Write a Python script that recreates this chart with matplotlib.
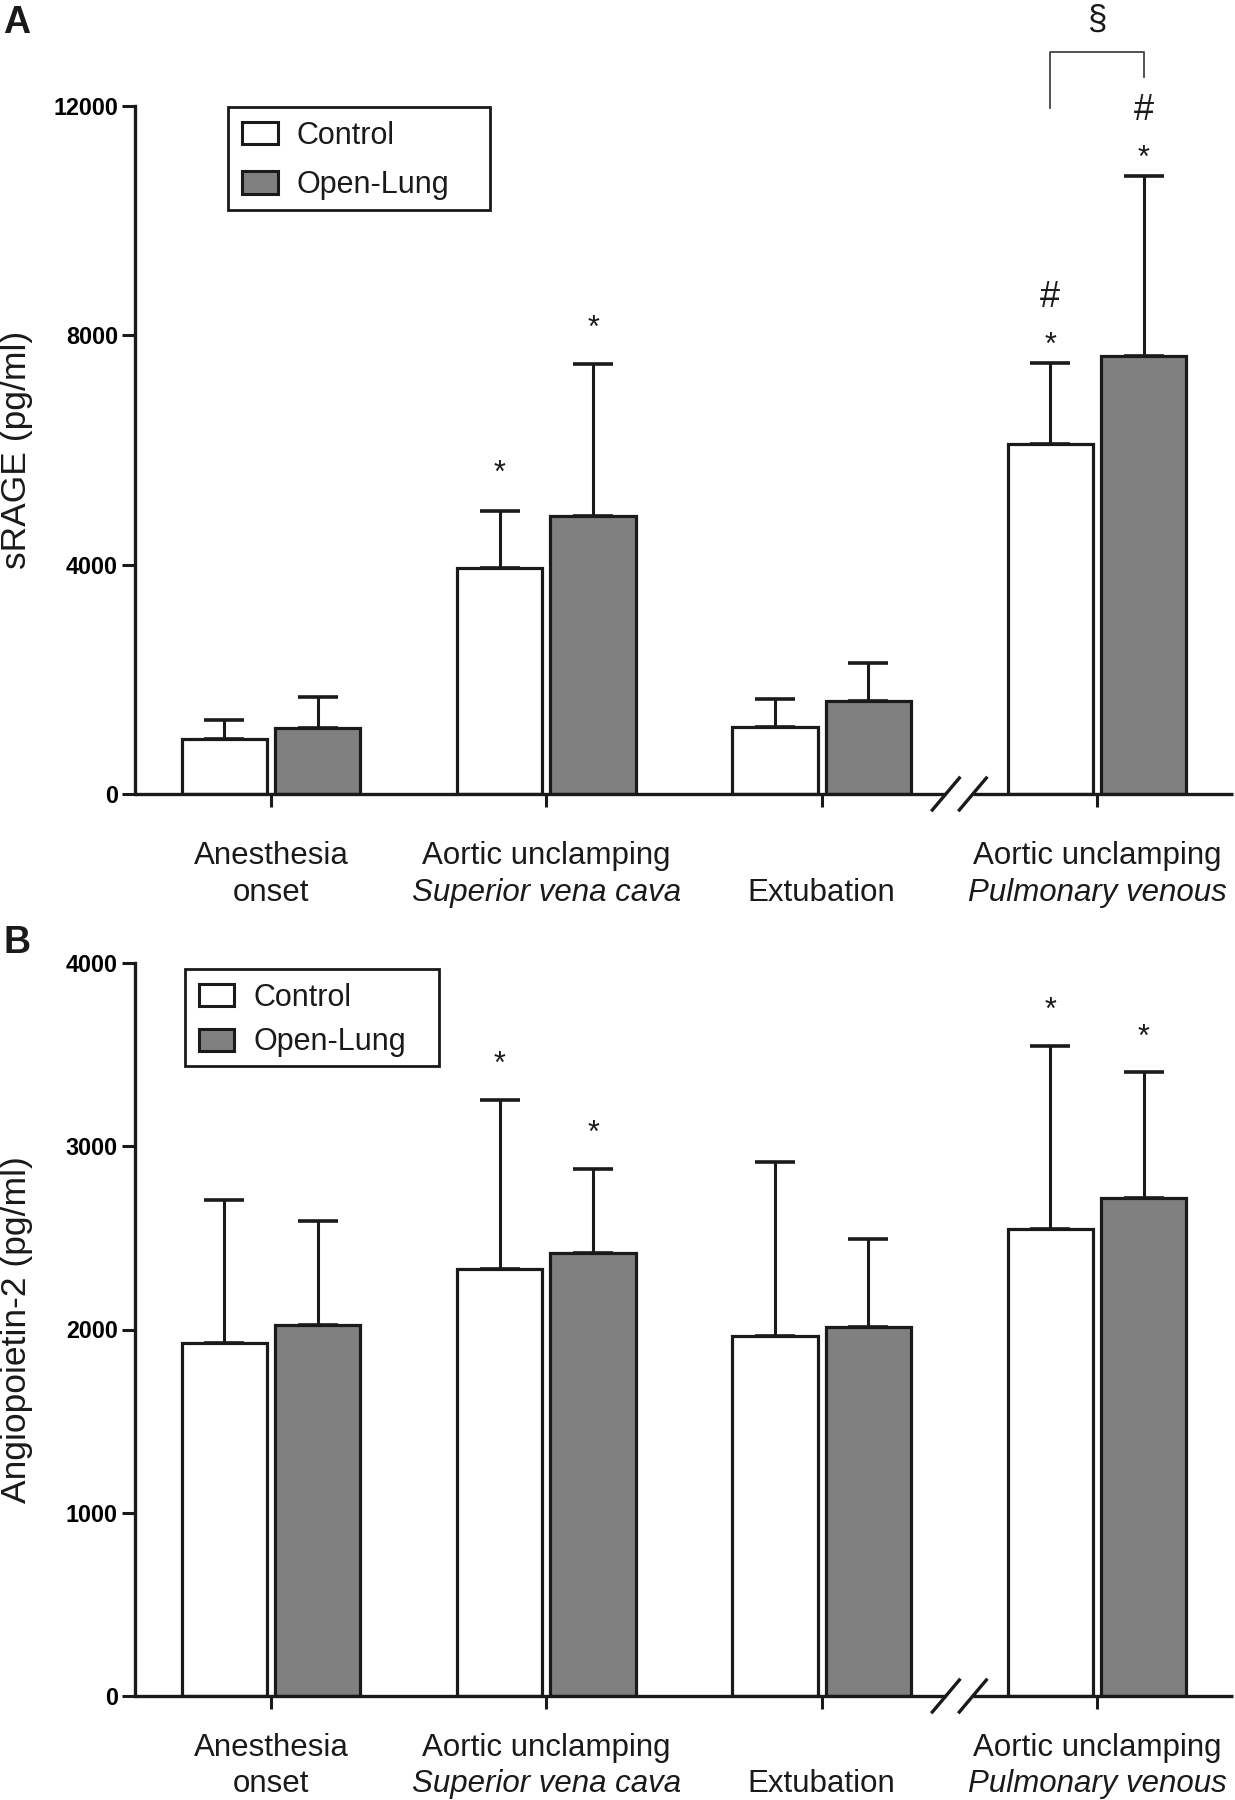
import matplotlib.pyplot as plt
from matplotlib.patches import Patch, Rectangle
import numpy as np

plt.rcParams['font.family'] = ['Liberation Sans', 'DejaVu Sans']

# category labels (two lines, second one italic for the sampling site)
line1 = ['Anesthesia', 'Aortic unclamping', '', 'Aortic unclamping']
line2 = ['onset', 'Superior vena cava', 'Extubation', 'Pulmonary venous']
line2_italic = [False, True, False, True]

# panel A: sRAGE (pg/ml), mean and SD
srage_control = [955, 3947, 1174, 6100]
srage_control_sd = [330, 994, 483, 1417]
srage_openlung = [1146, 4854, 1617, 7640]
srage_openlung_sd = [546, 2640, 661, 3140]
srage_ticks = [0, 4000, 8000, 12000]

# panel B: Angiopoietin-2 (pg/ml), mean and SD
ang2_control = [1925, 2328, 1964, 2550]
ang2_control_sd = [782, 924, 950, 997]
ang2_openlung = [2025, 2416, 2014, 2719]
ang2_openlung_sd = [567, 462, 478, 684]
ang2_ticks = [0, 1000, 2000, 3000, 4000]

# significance marks: (group, series, symbol, offset above error bar in pt)
srage_marks = [(1, 0, '*', 20.7), (1, 1, '*', 19.7),
               (3, 0, '*', 6.5), (3, 0, '#', 40),
               (3, 1, '*', 6.5), (3, 1, '#', 40)]
ang2_marks = [(1, 0, '*', 19.4), (1, 1, '*', 19.4),
              (3, 0, '*', 19.4), (3, 1, '*', 19.4)]

W, H = 1235, 1800
fig = plt.figure(figsize=(W / 100, H / 100), dpi=100)

dark = '#1a1a1a'
grey = '#808080'
x = np.arange(4)
off = 0.17
bw = 0.31
xmin, xmax = -0.494, 3.494


def draw_panel(ax, ctrl, ctrl_sd, ol, ol_sd, ymax, ticks, ylabel, marks,
               lab_off1, lab_off2, leg_anchor, leg_spacing, frame_px):
    ax.set_xlim(xmin, xmax)
    ax.set_ylim(0, ymax)

    ax.bar(x - off, ctrl, bw, color='white', edgecolor=dark, linewidth=2.3,
           label='Control', zorder=2)
    ax.bar(x + off, ol, bw, color=grey, edgecolor=dark, linewidth=2.3,
           label='Open-Lung', zorder=2)
    ax.errorbar(x - off, ctrl, yerr=[np.zeros(4), ctrl_sd], fmt='none',
                ecolor=dark, elinewidth=2.2, capsize=14.5, capthick=2.6, zorder=3)
    ax.errorbar(x + off, ol, yerr=[np.zeros(4), ol_sd], fmt='none',
                ecolor=dark, elinewidth=2.2, capsize=14.5, capthick=2.6, zorder=3)

    # spines / ticks
    for s in ['top', 'right', 'bottom']:
        ax.spines[s].set_visible(False)
    ax.spines['left'].set_linewidth(2.4)
    ax.spines['left'].set_color(dark)
    ax.set_yticks(ticks)
    ax.set_xticks(x)
    ax.set_xticklabels([])
    ax.tick_params(axis='both', length=9.4, width=2.2, color=dark, direction='out')
    ax.tick_params(axis='y', labelsize=16.8, pad=2.9)
    for lbl in ax.get_yticklabels():
        lbl.set_fontweight('bold')

    # x axis with a break between Extubation and the last group
    ax_h = ax.bbox.height
    dy = 16 / ax_h * ymax
    ax.plot([xmin, 2.5 - 0.049], [0, 0], color=dark, lw=2.4, clip_on=False,
            solid_capstyle='butt', zorder=4)
    ax.plot([2.5 + 0.049, xmax], [0, 0], color=dark, lw=2.4, clip_on=False,
            solid_capstyle='butt', zorder=4)
    for cx in [2.5 - 0.049, 2.5 + 0.049]:
        ax.plot([cx - 0.049, cx + 0.049], [-dy, dy], color=dark, lw=2.4,
                clip_on=False, zorder=4)

    # category labels
    tr = ax.get_xaxis_transform()
    for i in range(4):
        if line1[i]:
            ax.annotate(line1[i], xy=(x[i], 0), xycoords=tr, xytext=(0, -lab_off1),
                        textcoords='offset points', ha='center', va='baseline',
                        fontsize=22.5, color=dark)
        ax.annotate(line2[i], xy=(x[i], 0), xycoords=tr, xytext=(0, -lab_off2),
                    textcoords='offset points', ha='center', va='baseline',
                    fontsize=22.5, color=dark,
                    style='italic' if line2_italic[i] else 'normal')

    ax.set_ylabel(ylabel, fontsize=25.5, color=dark)
    ax.yaxis.set_label_coords(-0.0929, 0.5)

    # significance marks
    for g, s, sym, d in marks:
        if s == 0:
            xx, top = x[g] - off, ctrl[g] + ctrl_sd[g]
        else:
            xx, top = x[g] + off, ol[g] + ol_sd[g]
        ax.annotate(sym, xy=(xx, top), xytext=(0, d), textcoords='offset points',
                    ha='center', va='baseline', color=dark,
                    fontsize=22 if sym == '*' else 26, annotation_clip=False)

    handles = [Patch(facecolor='white', edgecolor=dark, linewidth=2.2, label='Control'),
               Patch(facecolor=grey, edgecolor=dark, linewidth=2.2, label='Open-Lung')]
    leg = ax.legend(handles=handles, loc='upper left', bbox_to_anchor=leg_anchor,
                    borderaxespad=0, fontsize=22, frameon=False,
                    handlelength=1.17, handleheight=0.75, handletextpad=0.62,
                    labelspacing=leg_spacing, borderpad=0.45)
    for t in leg.get_texts():
        t.set_color(dark)

    # legend frame, drawn separately (wider right margin than the legend pads)
    x0, y0, x1, y1 = frame_px
    fig_h = fig.bbox.height
    rect = Rectangle((x0, fig_h - y1), x1 - x0, y1 - y0, transform=None,
                     fill=False, edgecolor=dark, linewidth=2.0, zorder=5)
    fig.patches.append(rect)


axA = fig.add_axes([135 / W, 1 - 794 / H, 1098 / W, 688 / H])
axB = fig.add_axes([135 / W, 1 - 1696 / H, 1098 / W, 733 / H])

draw_panel(axA, srage_control, srage_control_sd, srage_openlung, srage_openlung_sd,
           12000, srage_ticks, 'sRAGE (pg/ml)', srage_marks, 50.4, 77,
           (0.0847, 0.9985), 0.64, (228, 107, 490, 210))
draw_panel(axB, ang2_control, ang2_control_sd, ang2_openlung, ang2_openlung_sd,
           4000, ang2_ticks, 'Angiopoietin-2 (pg/ml)', ang2_marks, 43.2, 69.1,
           (0.0455, 0.9918), 0.48, (185, 969, 439, 1066))

# bracket between the two pulmonary venous bars in panel A
xl, xr = x[3] - off, x[3] + off
axA.plot([xl, xl, xr, xr], [11964, 12941, 12941, 12505], color='#444444', lw=1.3,
         clip_on=False)
axA.text(x[3], 13490, '\u00a7', ha='center', va='center', fontsize=25, color=dark,
         clip_on=False)

fig.text(3 / W, 1 - 33 / H, 'A', fontsize=27, fontweight='bold', va='baseline',
         color=dark)
fig.text(3 / W, 1 - 953 / H, 'B', fontsize=27, fontweight='bold', va='baseline',
         color=dark)

fig.savefig('out.png', dpi=100)
